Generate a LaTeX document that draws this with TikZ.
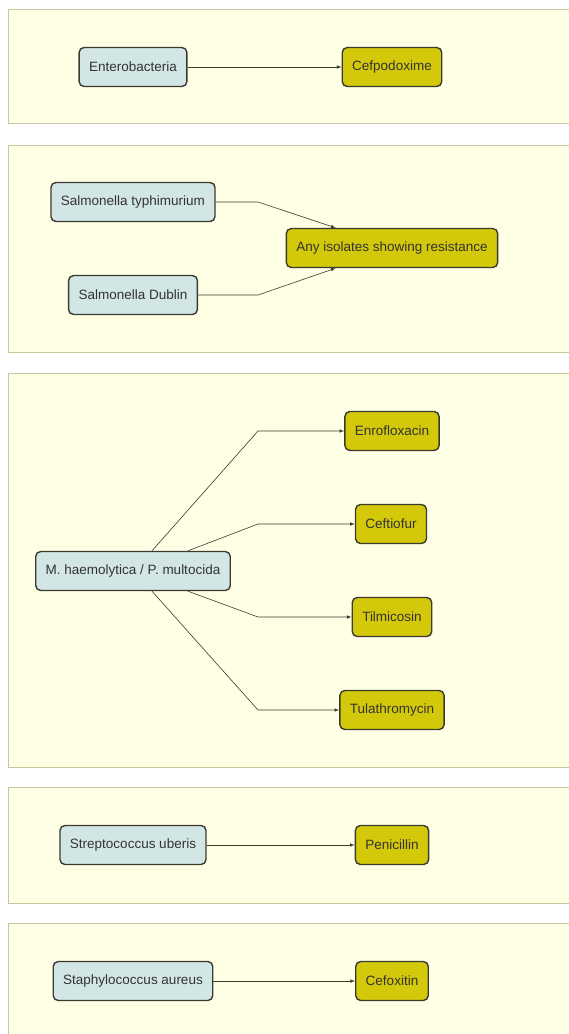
\documentclass[tikz,border=0pt]{standalone}
\usepackage{fontspec}
\setmainfont{Liberation Sans}
\usetikzlibrary{positioning}

\definecolor{panelfill}{HTML}{FFFFE6}
\definecolor{panelline}{HTML}{C8C8A0}
\definecolor{bugfill}{HTML}{D3E6E6}
\definecolor{drugfill}{HTML}{D4C80A}
\definecolor{boxline}{HTML}{3A3A30}
\definecolor{txt}{HTML}{333333}

\tikzset{
    panel/.style={draw=panelline, fill=panelfill, line width=0.9pt},
    bug/.style={draw=boxline, fill=bugfill, rectangle, rounded corners=5pt, line width=1.4pt, minimum height=39pt, inner xsep=10pt, text=txt},
    drug/.style={draw=boxline, fill=drugfill, rectangle, rounded corners=5pt, line width=1.4pt, minimum height=39pt, inner xsep=10pt, text=txt},
    link/.style={->, draw=boxline, line width=0.6pt}
}

\begin{document}
\begin{tikzpicture}[x=1pt, y=-1pt, >=latex, font=\fontsize{13.5}{16}\selectfont]
    \useasboundingbox (0,0) rectangle (568,1034);

    % background panels
    \draw[panel] (8,9) rectangle (590,123);
    \draw[panel] (8,145) rectangle (590,352);
    \draw[panel] (8,373) rectangle (590,767);
    \draw[panel] (8,787) rectangle (590,903);
    \draw[panel] (8,923) rectangle (590,1050);

    \coordinate (Bend) at (258,0);

    % panel 1
    \node (Entero) [bug] at (133,67) {Enterobacteria};
    \node (Cefpo) [drug] at (392,67) {Cefpodoxime};
    \draw[link] (Entero) -- (Cefpo);

    % panel 2
    \node (Typh) [bug] at (133,202) {Salmonella typhimurium};
    \node (Dublin) [bug] at (133,295) {Salmonella Dublin};
    \node (AnyRes) [drug] at (392,248) {Any isolates showing resistance};
    \draw[link] (Typh.east) -- (Bend |- Typh.east) -- ([xshift=50pt]AnyRes.north west);
    \draw[link] (Dublin.east) -- (Bend |- Dublin.east) -- ([xshift=50pt]AnyRes.south west);

    % panel 3
    \node (Mannh) [bug] at (133,571) {M. haemolytica / P. multocida};
    \node (Enro) [drug] at (392,431) {Enrofloxacin};
    \node (Ceft) [drug] at (391,524) {Ceftiofur};
    \node (Tilm) [drug] at (392,617) {Tilmicosin};
    \node (Tula) [drug] at (392,710) {Tulathromycin};
    \draw[link] ([xshift=19pt]Mannh.north) -- (Bend |- Enro.west) -- (Enro.west);
    \draw[link] ([xshift=55pt]Mannh.north) -- (Bend |- Ceft.west) -- (Ceft.west);
    \draw[link] ([xshift=55pt]Mannh.south) -- (Bend |- Tilm.west) -- (Tilm.west);
    \draw[link] ([xshift=19pt]Mannh.south) -- (Bend |- Tula.west) -- (Tula.west);

    % panel 4
    \node (Strep) [bug] at (133,845) {Streptococcus uberis};
    \node (Peni) [drug] at (392,845) {Penicillin};
    \draw[link] (Strep) -- (Peni);

    % panel 5
    \node (Staph) [bug] at (133,981) {Staphylococcus aureus};
    \node (Cefox) [drug] at (392,981) {Cefoxitin};
    \draw[link] (Staph) -- (Cefox);
\end{tikzpicture}
\end{document}
